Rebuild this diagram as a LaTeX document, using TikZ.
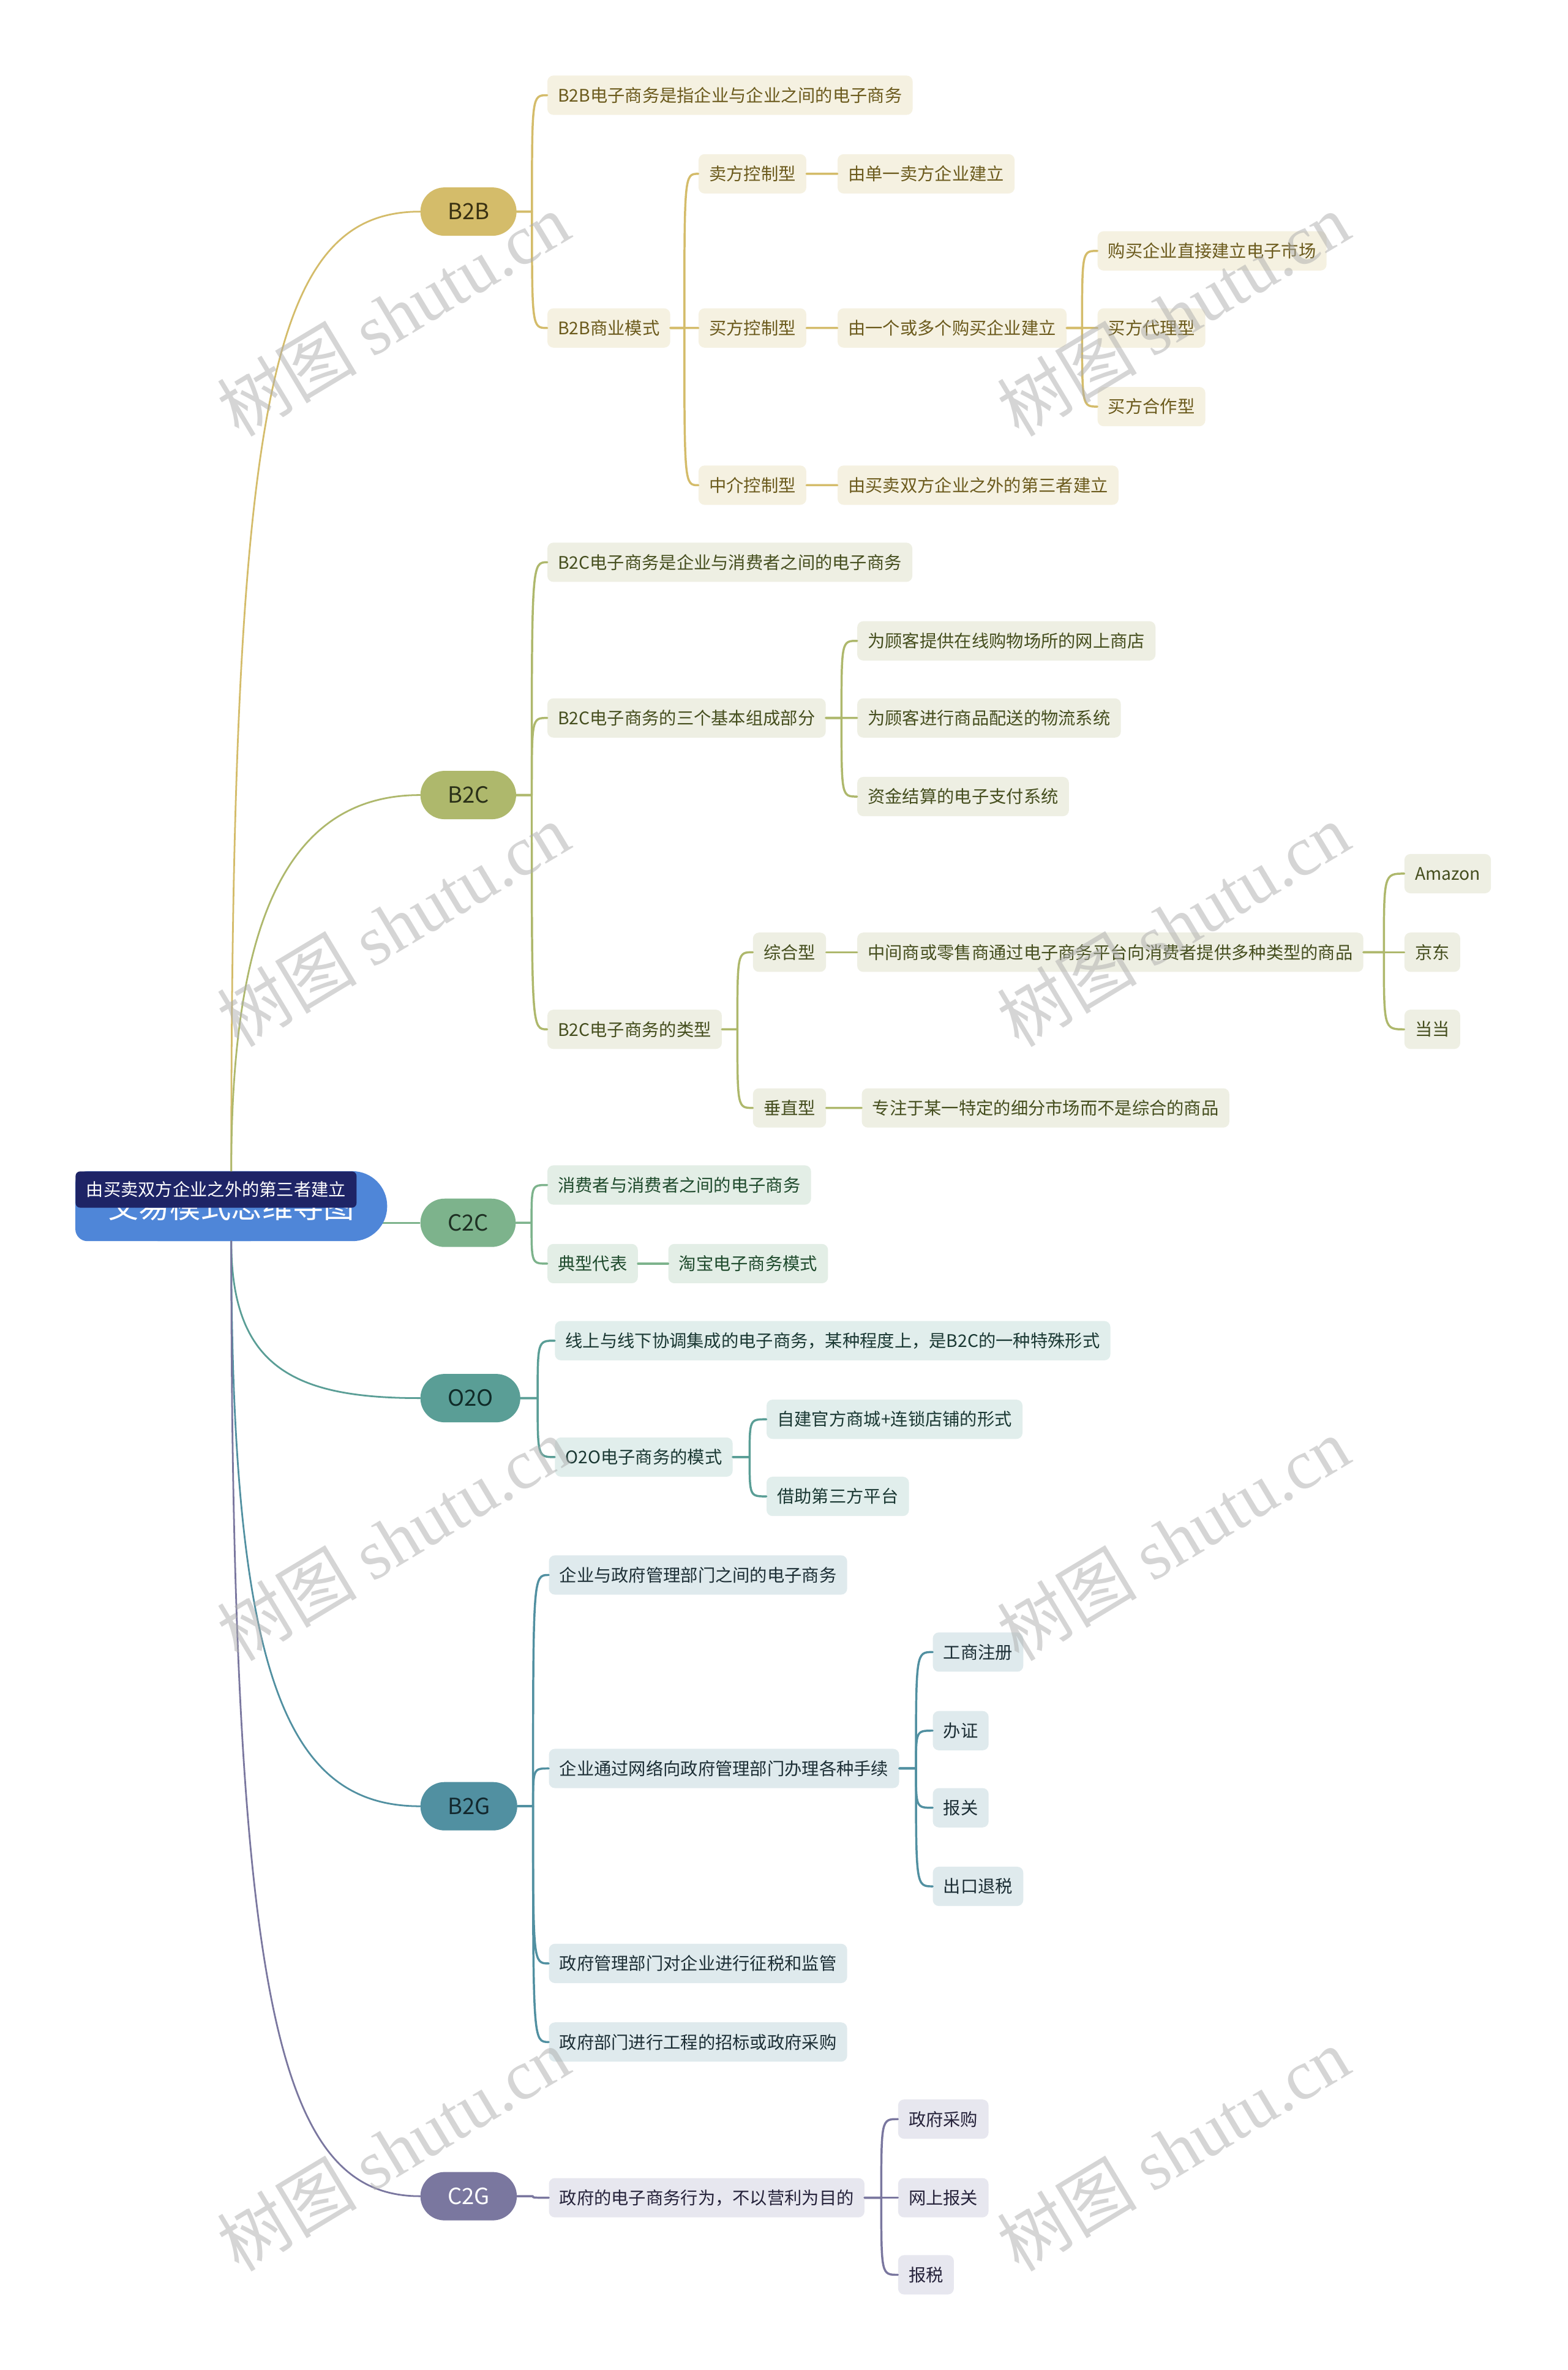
\documentclass[tikz,border=0pt]{standalone}
\usepackage{fontspec}
\setmainfont{Noto Sans CJK SC}
\newfontfamily\wmserif{Liberation Serif}
\usepackage{tikz}
\usetikzlibrary{calc,backgrounds}
\definecolor{rootblue}{HTML}{4F86D8}
\definecolor{tipnavy}{HTML}{1E2466}
\definecolor{gold}{HTML}{D4BC6A}
\definecolor{goldsoft}{HTML}{F5F1E1}
\definecolor{goldink}{HTML}{6B5A1C}
\definecolor{golddark}{HTML}{3A3112}
\definecolor{olive}{HTML}{AEB86C}
\definecolor{olivesoft}{HTML}{EEEFE3}
\definecolor{oliveink}{HTML}{454E1E}
\definecolor{olivedark}{HTML}{2A3018}
\definecolor{sage}{HTML}{7DB38C}
\definecolor{sagesoft}{HTML}{E3EEE6}
\definecolor{sageink}{HTML}{1E4A2C}
\definecolor{sagedark}{HTML}{1E3023}
\definecolor{sea}{HTML}{5A9E96}
\definecolor{seasoft}{HTML}{E1EEEC}
\definecolor{seaink}{HTML}{1A3833}
\definecolor{seadark}{HTML}{0F2B28}
\definecolor{steel}{HTML}{5190A1}
\definecolor{steelsoft}{HTML}{DFEAED}
\definecolor{steelink}{HTML}{1C2E35}
\definecolor{steeldark}{HTML}{13282E}
\definecolor{dusk}{HTML}{7A779F}
\definecolor{dusksoft}{HTML}{E7E7EF}
\definecolor{duskink}{HTML}{25223A}
\definecolor{duskdark}{HTML}{FFFFFF}
\newcommand\leaffont{\fontsize{16.3pt}{18pt}\selectfont}
\newcommand\topicfont{\fontsize{21pt}{24pt}\selectfont}
\newcommand\rootfont{\fontsize{29pt}{32pt}\selectfont}
\newcommand\markfont{\fontsize{66pt}{72pt}\selectfont}
\tikzset{
    every picture/.style={line cap=round,line join=round},
    leaf/.style={fill=#1soft,text=#1ink,rounded corners=2mm,inner xsep=3.5mm,
      inner ysep=0pt,minimum height=13mm,anchor=west,font=\leaffont},
    topic/.style={fill=#1,text=#1dark,rounded corners=8mm,inner xsep=9mm,
      inner ysep=0pt,minimum height=16mm,anchor=west,font=\topicfont},
    link/.style={draw=#1,line width=2pt},
    rootlink/.style={draw=#1,line width=1.6pt},
    tipbox/.style={fill=tipnavy,text=white,rounded corners=1.5mm,inner xsep=3.5mm,
      inner ysep=0pt,minimum height=12mm,anchor=north west,font=\leaffont},
    watermark/.style={rotate=31,text=black!32,text opacity=0.5,font=\markfont}
}
\newcommand\fork[3]{\foreach \kid in {#3}{%
  \draw[link=#1] (#2.east) -- ($(#2.east)!0.5!(#2.east -| \kid.west)$) coordinate (s)
    .. controls (s |- \kid.west) .. (\kid.west);}}

\begin{document}
\begin{tikzpicture}[x=0.5mm,y=-0.5mm]
  \useasboundingbox (0,0) rectangle (1037,1568);
  \node[minimum width=103mm,minimum height=23mm,inner sep=0pt,text=white,font=\rootfont] (root) at (153,798) {交易模式思维导图};

  \node[topic=gold] (b2b) at (278,140) {B2B};
  \node[topic=olive] (b2c) at (278,526) {B2C};
  \node[topic=sage] (c2c) at (278,809) {C2C};
  \node[topic=sea] (o2o) at (278,925) {O2O};
  \node[topic=steel] (b2g) at (278,1195) {B2G};
  \node[topic=dusk] (c2g) at (278,1453) {C2G};

  % B2B
  \node[leaf=gold] (b2bdef) at (362,63) {B2B电子商务是指企业与企业之间的电子商务};
  \node[leaf=gold] (b2bmode) at (362,217) {B2B商业模式};
  \node[leaf=gold] (sellctl) at (462,115) {卖方控制型};
  \node[leaf=gold] (sellby) at (554,115) {由单一卖方企业建立};
  \node[leaf=gold] (buyctl) at (462,217) {买方控制型};
  \node[leaf=gold] (buyby) at (554,217) {由一个或多个购买企业建立};
  \node[leaf=gold] (buydirect) at (726,166) {购买企业直接建立电子市场};
  \node[leaf=gold] (buyagent) at (726,217) {买方代理型};
  \node[leaf=gold] (buycoop) at (726,269) {买方合作型};
  \node[leaf=gold] (midctl) at (462,321) {中介控制型};
  \node[leaf=gold] (midby) at (554,321) {由买卖双方企业之外的第三者建立};

  % B2C
  \node[leaf=olive] (b2cdef) at (362,372) {B2C电子商务是企业与消费者之间的电子商务};
  \node[leaf=olive] (b2cparts) at (362,475) {B2C电子商务的三个基本组成部分};
  \node[leaf=olive] (shop) at (567,424) {为顾客提供在线购物场所的网上商店};
  \node[leaf=olive] (logis) at (567,475) {为顾客进行商品配送的物流系统};
  \node[leaf=olive] (pay) at (567,527) {资金结算的电子支付系统};
  \node[leaf=olive] (b2ctypes) at (362,681) {B2C电子商务的类型};
  \node[leaf=olive] (general) at (498,630) {综合型};
  \node[leaf=olive] (generaldef) at (567,630) {中间商或零售商通过电子商务平台向消费者提供多种类型的商品};
  \node[leaf=olive] (amazon) at (929,578) {Amazon};
  \node[leaf=olive] (jd) at (929,630) {京东};
  \node[leaf=olive] (dangdang) at (929,681) {当当};
  \node[leaf=olive] (vertical) at (498,733) {垂直型};
  \node[leaf=olive] (verticaldef) at (570,733) {专注于某一特定的细分市场而不是综合的商品};

  % C2C
  \node[leaf=sage] (c2cdef) at (362,784) {消费者与消费者之间的电子商务};
  \node[leaf=sage] (c2ctyp) at (362,836) {典型代表};
  \node[leaf=sage] (taobao) at (442,836) {淘宝电子商务模式};

  % O2O
  \node[leaf=sea] (o2odef) at (367,887) {线上与线下协调集成的电子商务，某种程度上，是B2C的一种特殊形式};
  \node[leaf=sea] (o2omode) at (367,964) {O2O电子商务的模式};
  \node[leaf=sea] (selfbuilt) at (507,939) {自建官方商城+连锁店铺的形式};
  \node[leaf=sea] (thirdparty) at (507,990) {借助第三方平台};

  % B2G
  \node[leaf=steel] (b2gdef) at (363,1042) {企业与政府管理部门之间的电子商务};
  \node[leaf=steel] (procedures) at (363,1170) {企业通过网络向政府管理部门办理各种手续};
  \node[leaf=steel] (regist) at (617,1093) {工商注册};
  \node[leaf=steel] (license) at (617,1145) {办证};
  \node[leaf=steel] (customs) at (617,1196) {报关};
  \node[leaf=steel] (taxrefund) at (617,1248) {出口退税};
  \node[leaf=steel] (levy) at (363,1299) {政府管理部门对企业进行征税和监管};
  \node[leaf=steel] (tender) at (363,1351) {政府部门进行工程的招标或政府采购};

  % C2G
  \node[leaf=dusk] (c2gdef) at (363,1454) {政府的电子商务行为，不以营利为目的};
  \node[leaf=dusk] (purchase) at (594,1402) {政府采购};
  \node[leaf=dusk] (netcustoms) at (594,1454) {网上报关};
  \node[leaf=dusk] (taxfile) at (594,1505) {报税};

  \fork{gold}{b2b}{b2bdef,b2bmode}
  \fork{gold}{b2bmode}{sellctl,buyctl,midctl}
  \fork{gold}{sellctl}{sellby}
  \fork{gold}{buyctl}{buyby}
  \fork{gold}{buyby}{buydirect,buyagent,buycoop}
  \fork{gold}{midctl}{midby}
  \fork{olive}{b2c}{b2cdef,b2cparts,b2ctypes}
  \fork{olive}{b2cparts}{shop,logis,pay}
  \fork{olive}{b2ctypes}{general,vertical}
  \fork{olive}{general}{generaldef}
  \fork{olive}{generaldef}{amazon,jd,dangdang}
  \fork{olive}{vertical}{verticaldef}
  \fork{sage}{c2c}{c2cdef,c2ctyp}
  \fork{sage}{c2ctyp}{taobao}
  \fork{sea}{o2o}{o2odef,o2omode}
  \fork{sea}{o2omode}{selfbuilt,thirdparty}
  \fork{steel}{b2g}{b2gdef,procedures,levy,tender}
  \fork{steel}{procedures}{regist,license,customs,taxrefund}
  \fork{dusk}{c2g}{c2gdef}
  \fork{dusk}{c2gdef}{purchase,netcustoms,taxfile}

  \draw[rootlink=gold] (root.north) .. controls (153,260) and (180,140) .. (b2b.west);
  \draw[rootlink=olive] (root.north) .. controls (153,610) and (190,526) .. (b2c.west);
  \draw[rootlink=sea] (root.south) .. controls (153,905) and (195,925) .. (o2o.west);
  \draw[rootlink=steel] (root.south) .. controls (153,1110) and (190,1195) .. (b2g.west);
  \draw[rootlink=dusk] (root.south) .. controls (153,1330) and (185,1453) .. (c2g.west);

  \begin{scope}[on background layer]
    \fill[white] (0,0) rectangle (1037,1568);
    \draw[rootlink=sage] (c2c.west) -- ([xshift=-3mm]root.east |- c2c.west);
    \fill[rootblue,rounded corners=11.5mm] ([xshift=-35mm]root.north) rectangle (root.south east);
    \fill[rootblue,rounded corners=4mm] (root.north west) rectangle ([xshift=10mm]root.south);
  \end{scope}
  \node[tipbox] (tip) at (root.north west) {由买卖双方企业之外的第三者建立};

  \foreach \wx in {260,776}
    \foreach \wy in {208,612,1018,1422}
      \node[watermark] (wm-\wx-\wy) at (\wx,\wy) {树图 {\wmserif shutu.cn}};
\end{tikzpicture}
\end{document}
